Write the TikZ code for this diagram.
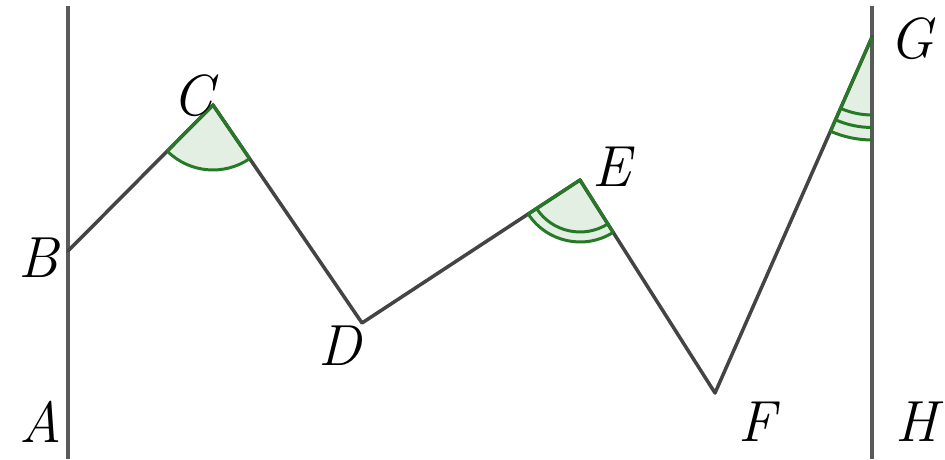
\documentclass[tikz,border=0pt]{standalone}
\usepackage{fontspec}
\usetikzlibrary{angles,calc}
\definecolor{lineg}{RGB}{68,68,68}
\definecolor{vertg}{RGB}{90,90,90}
\definecolor{angg}{RGB}{38,122,38}
\definecolor{angfill}{RGB}{226,239,226}
\tikzset{
  seg/.style={draw=lineg, line width=2pt, line join=round, line cap=round},
  wall/.style={draw=vertg, line width=2.2pt},
  arcst/.style={draw=angg, line width=1.7pt},
  fillst/.style={fill=angfill, draw=none},
  lab/.style={inner sep=0pt, font=\fontsize{33}{40}\selectfont\itshape}
}
\begin{document}
\begin{tikzpicture}[x=0.02cm,y=0.02cm]
\useasboundingbox (0,0) rectangle (945,459);
% points (y measured upward)
\coordinate (A) at (68,0);
\coordinate (Atop) at (68,453);
\coordinate (B) at (68,208);
\coordinate (C) at (213,354);
\coordinate (D) at (362,136);
\coordinate (E) at (580,279);
\coordinate (F) at (715,66);
\coordinate (G) at (872,422);
\coordinate (H) at (872,0);
\coordinate (Htop) at (872,453);
% angle fills
\pic[fillst, angle radius=1.3cm] {angle=B--C--D};
\pic[fillst, angle radius=1.24cm] {angle=D--E--F};
\pic[fillst, angle radius=2.06cm] {angle=F--G--H};
% walls
\draw[wall] (A) -- (Atop);
\draw[wall] (H) -- (Htop);
% polyline
\draw[seg] (B) -- (C) -- (D) -- (E) -- (F) -- (G);
% angle at C
\pic[arcst, angle radius=1.3cm] {angle=B--C--D};
\draw[arcst] ($(C)!1.3cm!(B)$) -- (C) -- ($(C)!1.3cm!(D)$);
% angle at E (double)
\pic[arcst, angle radius=1.04cm] {angle=D--E--F};
\pic[arcst, angle radius=1.24cm] {angle=D--E--F};
\draw[arcst] ($(E)!1.24cm!(D)$) -- (E) -- ($(E)!1.24cm!(F)$);
% angle at G (triple)
\pic[arcst, angle radius=1.56cm] {angle=F--G--H};
\pic[arcst, angle radius=1.81cm] {angle=F--G--H};
\pic[arcst, angle radius=2.06cm] {angle=F--G--H};
\draw[arcst] ($(G)!2.06cm!(F)$) -- (G);
% labels
\node[lab] (lA) at (41,37) {A};
\node[lab] (lB) at (38,201) {B};
\node[lab] (lC) at (193,363) {C};
\node[lab] (lD) at (340,113) {D};
\node[lab] (lE) at (612,292) {E};
\node[lab] (lF) at (757,37) {F};
\node[lab] (lG) at (911,420) {G};
\node[lab] (lH) at (917,37) {H};
\end{tikzpicture}
\end{document}
